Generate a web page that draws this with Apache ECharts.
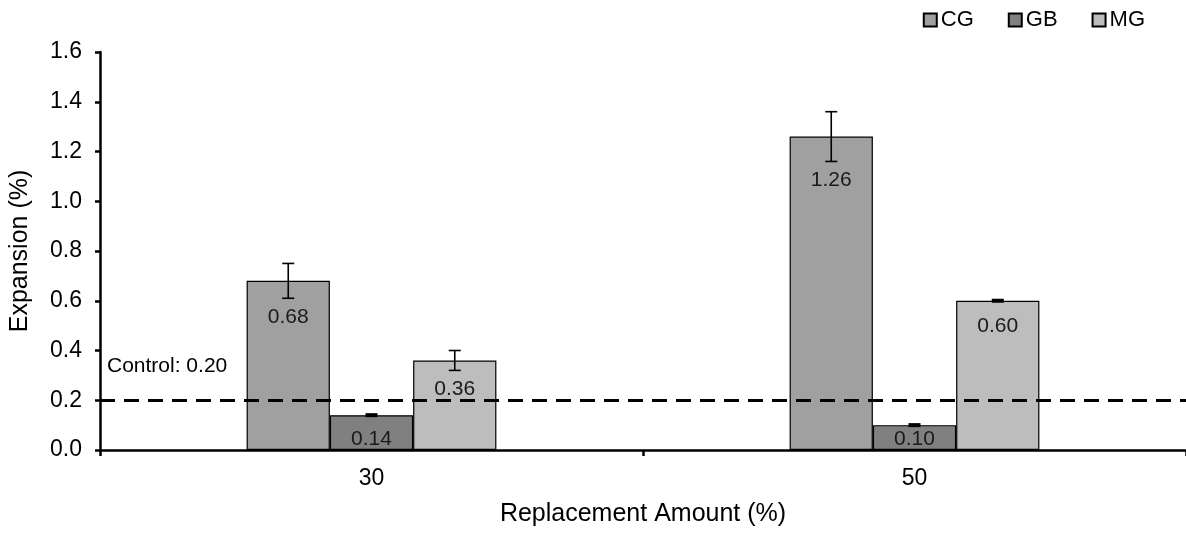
<!DOCTYPE html>
<html><head><meta charset="utf-8">
<script src="https://cdn.jsdelivr.net/npm/echarts@6/dist/echarts.min.js"></script>
<style>html,body{margin:0;padding:0;background:#fff}#c{width:1186px;height:535px}</style>
</head><body><div id="c"></div>
<script>
const categories = ['30', '50'];
const seriesNames = ['CG', 'GB', 'MG'];
const cgValues = [0.68, 1.26];
const gbValues = [0.14, 0.10];
const mgValues = [0.36, 0.60];
const cgErrors = [0.07, 0.10];
const gbErrors = [0.005, 0.005];
const mgErrors = [0.04, 0.005];
const controlValue = 0.20;
const yTicks = [0, 0.2, 0.4, 0.6, 0.8, 1.0, 1.2, 1.4, 1.6];

const colors = ['#a0a0a0', '#808080', '#bdbdbd'];
const values = [cgValues, gbValues, mgValues];
const errors = [cgErrors, gbErrors, mgErrors];
const FONT = '"Liberation Sans", Arial, sans-serif';
const groupFrac = 0.46;

const chart = echarts.init(document.getElementById('c'));
const series = [];
values.forEach((vals, i) => {
  series.push({
    name: seriesNames[i], type: 'bar', data: vals,
    barGap: '0%', barCategoryGap: '54%',
    itemStyle: { color: colors[i], borderColor: '#000', borderWidth: 1.2 },
    label: { show: false },
    z: 2,
    markLine: i === 0 ? {
      silent: true, symbol: 'none',
      lineStyle: { color: '#000', type: [15, 9], width: 3 },
      label: { show: false },
      data: [{ yAxis: controlValue }]
    } : undefined
  });
  series.push({
    type: 'custom', z: 5,
    data: vals.map((v, k) => [k, v, errors[i][k]]),
    renderItem: (params, api) => {
      const k = api.value(0), v = api.value(1), e = api.value(2);
      const band = api.size([1, 0])[0];
      const bw = band * groupFrac / 3;
      const c = api.coord([k, v]);
      const x = c[0] + (i - 1) * bw;
      const top = api.coord([k, v + e])[1];
      const bot = api.coord([k, v - e])[1];
      const zeroY = api.coord([k, 0])[1];
      const cap = 6;
      const st = { stroke: '#000', lineWidth: 1.6 };
      const children = [];
      let ly;
      if (bot - top < 5) {
        children.push({ type: 'rect', shape: { x: x - cap, y: c[1] - 2, width: cap * 2, height: 4 }, style: { fill: '#000' } });
        ly = c[1] + 15;
      } else {
        children.push(
          { type: 'line', shape: { x1: x, y1: top, x2: x, y2: bot }, style: st },
          { type: 'line', shape: { x1: x - cap, y1: top, x2: x + cap, y2: top }, style: st },
          { type: 'line', shape: { x1: x - cap, y1: bot, x2: x + cap, y2: bot }, style: st });
        ly = Math.max(c[1] + 15, bot + 8);
      }
      ly = Math.min(ly, zeroY - 21);
      children.push({ type: 'text', x: x, y: ly, style: {
        text: v.toFixed(2), fontSize: 21, fontFamily: FONT, fill: '#1a1a1a',
        align: 'center', verticalAlign: 'top' } });
      return { type: 'group', children };
    }
  });
});

chart.setOption({
  animation: false,
  grid: { left: 100, right: -8, top: 52, bottom: 85 },
  legend: {
    data: seriesNames, right: 36, top: 4, itemWidth: 13, itemHeight: 13, itemGap: 34,
    icon: 'rect',
    textStyle: { fontSize: 22, fontFamily: FONT, color: '#000', padding: [0, 0, 0, -1] }
  },
  graphic: [{
    type: 'text', left: 107, top: 356,
    style: { text: 'Control: ' + controlValue.toFixed(2), fontSize: 21, fontFamily: FONT, fill: '#000' }
  }],
  xAxis: {
    type: 'category', data: categories,
    name: 'Replacement Amount (%)', nameLocation: 'middle', nameGap: 52,
    nameTextStyle: { fontSize: 25, fontFamily: FONT, color: '#000' },
    axisLine: { lineStyle: { color: '#000', width: 2.5 } },
    axisTick: { show: true, length: 6, lineStyle: { width: 2.5 } },
    axisLabel: { fontSize: 23, fontFamily: FONT, color: '#000', margin: 17 }
  },
  yAxis: {
    type: 'value', min: 0, max: 1.6, interval: 0.2,
    name: 'Expansion (%)', nameLocation: 'middle', nameGap: 67,
    nameTextStyle: { fontSize: 25, fontFamily: FONT, color: '#000' },
    axisLine: { show: true, lineStyle: { color: '#000', width: 2.5 } },
    axisTick: { show: true, length: 5, lineStyle: { width: 2.5 } },
    splitLine: { show: false },
    axisLabel: { fontSize: 23, fontFamily: FONT, color: '#000', margin: 18,
      formatter: v => yTicks.includes(+v.toFixed(1)) ? v.toFixed(1) : '' }
  },
  series: series
});
</script></body></html>
